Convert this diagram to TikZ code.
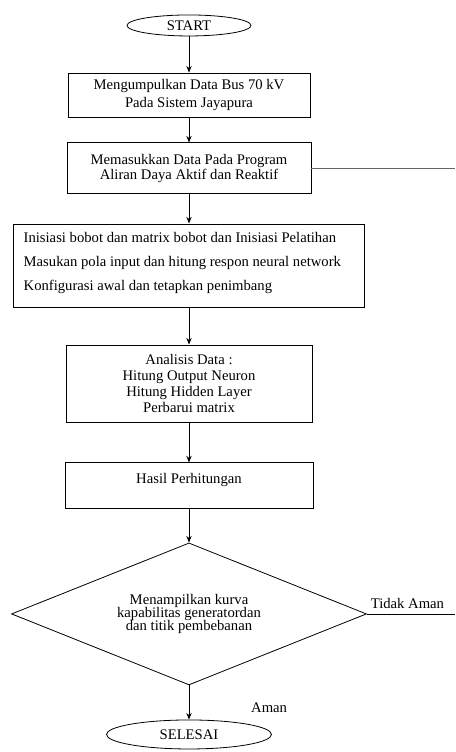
\documentclass[tikz,border=0pt]{standalone}
\usepackage{fontspec}
\setmainfont{Liberation Serif}
\usetikzlibrary{shapes.geometric,arrows.meta}

\begin{document}
\begin{tikzpicture}[node distance=2cm, >={Stealth[length=5pt,width=4pt]}, line width=0.6pt,
  every node/.style={font=\fontsize{11}{13.5}\selectfont},
  termbox/.style={ellipse, draw, inner sep=0pt},
  procbox/.style={rectangle, draw, align=center, inner sep=0pt}]
\useasboundingbox (-141.75pt,19.1pt) rectangle (199.5pt,-544.9pt);
\coordinate (rim) at (199.5pt,0);
\node (start) [termbox, minimum width=93pt, minimum height=15.75pt] {START};
\node (collect) [procbox, node distance=52.1pt, below of=start, minimum width=181.5pt, minimum height=33pt] {Mengumpulkan Data Bus 70 kV\\Pada Sistem Jayapura};
\node (load) [procbox, node distance=55.1pt, below of=collect, minimum width=183pt, minimum height=38.25pt, font=\fontsize{11}{11.5}\selectfont] {Memasukkan Data Pada Program\\Aliran Daya Aktif dan Reaktif};
\node (init) [procbox, node distance=72.75pt, below of=load, inner xsep=7.5pt, inner ysep=4pt] {\parbox[c][54.25pt][t]{248pt}{\fontsize{11}{18}\selectfont
  \rule{0pt}{10pt}Inisiasi bobot dan matrix bobot dan Inisiasi Pelatihan\\
  Masukan pola input dan hitung respon neural network\\
  Konfigurasi awal dan tetapkan penimbang}};
\node (anls) [procbox, node distance=88.5pt, below of=init, minimum width=184.5pt, minimum height=57.75pt, font=\fontsize{11}{12}\selectfont] {Analisis Data :\\Hitung Output Neuron\\Hitung Hidden Layer\\Perbarui matrix};
\node (result) [procbox, node distance=76.5pt, below of=anls, inner xsep=3pt, inner ysep=4.4pt] {\parbox[c][25pt][t]{180pt}{\centering\rule{0pt}{11pt}Hasil Perhitungan}};
\node (check) [diamond, draw, aspect=2.5, node distance=96.4pt, below of=result, minimum width=266.25pt, minimum height=106.5pt, inner sep=0pt, align=center, font={\fontsize{11}{9.75}\selectfont\lineskiplimit=-5pt\relax}] {Menampilkan kurva\\kapabilitas generatordan\\dan titik pembebanan};
\node (finish) [termbox, node distance=90.4pt, below of=check, minimum width=123.75pt, minimum height=21.75pt] {SELESAI};
\draw [->] (start) -- (collect);
\draw [->] (collect) -- (load);
\draw [->] (load) -- (init);
\draw [->] (init) -- (anls);
\draw [->] (anls) -- (result);
\draw [->] (result) -- (check);
\draw [->] (check) -- node[pos=0.66, right=43pt] {Aman} (finish);
\draw [black!60] (load.east) -- (load.east -| rim);
\draw (check.east) -- node[above, pos=0.46] {Tidak Aman} (check.east -| rim);
\end{tikzpicture}
\end{document}
